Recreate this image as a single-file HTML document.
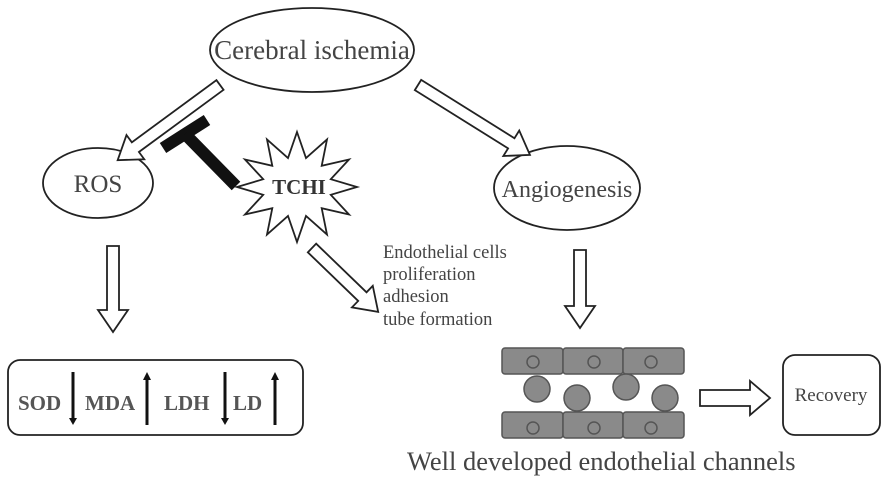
<!DOCTYPE html>
<html><head><style>
html,body{margin:0;padding:0;background:#fff;}
svg{display:block;}
text{font-family:"Liberation Serif",serif;fill:#444;}
</style></head><body>
<svg width="886" height="477" viewBox="0 0 886 477" xmlns="http://www.w3.org/2000/svg">
<g fill="#fff" stroke="#222" stroke-width="1.8">
<ellipse cx="312" cy="50" rx="102" ry="42"/>
<ellipse cx="98" cy="183" rx="55" ry="35"/>
<ellipse cx="567" cy="188" rx="73" ry="42"/>
<polygon transform="translate(220,85) rotate(143.7)" points="0,-6 105,-6 105,-15 127,0 105,15 105,6 0,6"/>
<polygon transform="translate(418,85) rotate(32)" points="0,-6 110,-6 110,-15 132,0 110,15 110,6 0,6"/>
<polygon transform="translate(113,246) rotate(90)" points="0,-6 64,-6 64,-15 86,0 64,15 64,6 0,6"/>
<polygon transform="translate(580,250) rotate(90)" points="0,-6 56,-6 56,-15 78,0 56,15 56,6 0,6"/>
<polygon transform="translate(312,248) rotate(44)" points="0,-6 70,-6 70,-15 92,0 70,15 70,6 0,6"/>
<polygon transform="translate(700,398)" points="0,-8 50,-8 50,-17 70,0 50,17 50,8 0,8"/>
<polygon points="297,132 306,158 327,139.4 321.7,165.8 349,159.5 330.8,179.2 357,187 330.8,194.8 349,214.5 321.7,208.2 327,234.6 306,216 297,242 288,216 267,234.6 272.3,208.2 245,214.5 263.2,194.8 237,187 263.2,179.2 245,159.5 272.3,165.8 267,139.4 288,158"/>
<rect x="8" y="360" width="295" height="75" rx="12"/>
<rect x="783" y="355" width="97" height="80" rx="12"/>
</g>
<line x1="163" y1="148" x2="207" y2="120" stroke="#111" stroke-width="12"/>
<line x1="185" y1="134" x2="236" y2="186" stroke="#111" stroke-width="12"/>
<text x="312" y="59" font-size="27" text-anchor="middle">Cerebral ischemia</text>
<text x="98" y="192" font-size="25" text-anchor="middle">ROS</text>
<text x="567" y="197" font-size="24" text-anchor="middle">Angiogenesis</text>
<text x="299" y="194" font-size="21" font-weight="bold" text-anchor="middle" style="fill:#333">TCHI</text>
<g font-size="18.5"><text x="383" y="258">Endothelial cells</text><text x="383" y="280">proliferation</text><text x="383" y="302">adhesion</text><text x="383" y="325">tube formation</text></g>
<g font-size="21" font-weight="bold"><text x="18" y="410" style="fill:#555">SOD</text><text x="85" y="410" style="fill:#555">MDA</text><text x="164" y="410" style="fill:#555">LDH</text><text x="233" y="410" style="fill:#555">LD</text></g>
<g stroke="#111" stroke-width="3" fill="#111">
<line x1="73" y1="372" x2="73" y2="420"/><polygon points="69,418 77,418 73,425" stroke="none"/>
<line x1="147" y1="378" x2="147" y2="425"/><polygon points="143,380 151,380 147,372" stroke="none"/>
<line x1="225" y1="372" x2="225" y2="420"/><polygon points="221,418 229,418 225,425" stroke="none"/>
<line x1="275" y1="378" x2="275" y2="425"/><polygon points="271,380 279,380 275,372" stroke="none"/>
</g>
<g fill="#8a8a8a" stroke="#555" stroke-width="1.5">
<rect x="502" y="348" width="61" height="26" rx="3"/><rect x="563" y="348" width="60" height="26" rx="3"/><rect x="623" y="348" width="61" height="26" rx="3"/>
<rect x="502" y="412" width="61" height="26" rx="3"/><rect x="563" y="412" width="60" height="26" rx="3"/><rect x="623" y="412" width="61" height="26" rx="3"/>
<circle cx="533" cy="362" r="6"/><circle cx="594" cy="362" r="6"/><circle cx="651" cy="362" r="6"/>
<circle cx="533" cy="428" r="6"/><circle cx="594" cy="428" r="6"/><circle cx="651" cy="428" r="6"/>
<circle cx="537" cy="389" r="13"/><circle cx="577" cy="398" r="13"/><circle cx="626" cy="387" r="13"/><circle cx="665" cy="398" r="13"/>
</g>
<text x="831" y="401" font-size="19" text-anchor="middle">Recovery</text>
<text x="407" y="470" font-size="26.5">Well developed endothelial channels</text>
</svg>
</body></html>
